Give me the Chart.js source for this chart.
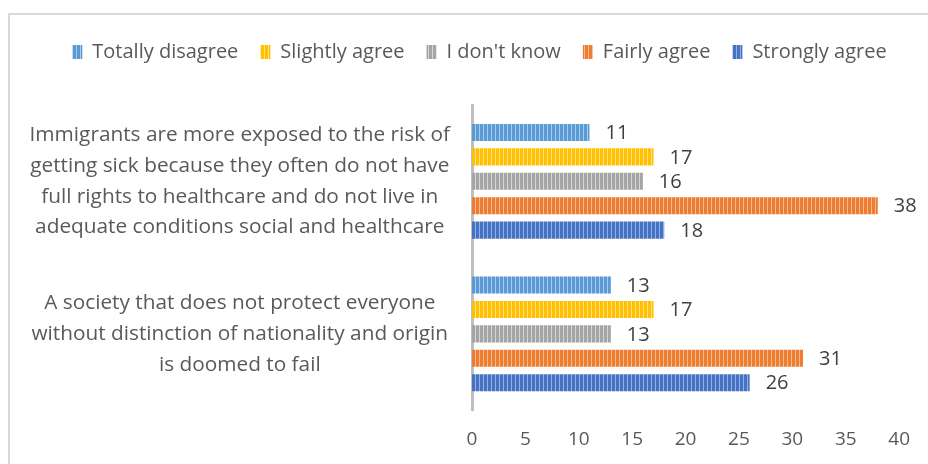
<!DOCTYPE html>
<html>
<head>
<meta charset="utf-8">
<script src="https://cdn.jsdelivr.net/npm/chart.js@4.4.0/dist/chart.umd.min.js"></script>
<style>
  html, body { margin: 0; padding: 0; background: #fff; }
  #wrap { width: 928px; height: 464px; position: relative; }
</style>
</head>
<body>
<div id="wrap"><canvas id="grafico" width="928" height="464"></canvas></div>
<script>
// categorias (eixo y)
const categorias = [
    ['Immigrants are more exposed to the risk of', 'getting sick because they often do not have', 'full rights to healthcare and do not live in', 'adequate conditions social and healthcare'],
    ['A society that does not protect everyone', 'without distinction of nationality and origin', 'is doomed to fail']
];

// séries
const series = ['Totally disagree', 'Slightly agree', "I don't know", 'Fairly agree', 'Strongly agree'];
const totallyDisagree = [11, 13];
const slightlyAgree = [17, 17];
const naoSei = [16, 13];
const fairlyAgree = [38, 31];
const stronglyAgree = [18, 26];

// ticks do eixo x
const ticksX = [0, 5, 10, 15, 20, 25, 30, 35, 40];

const fonte = "'Open Sans', sans-serif";
const cores = ['#5B9BD5', '#FFC000', '#A5A5A5', '#ED7D31', '#4472C4'];
const coresClaras = ['#a9cbec', '#ffe08a', '#d6d6d6', '#f6b98f', '#97b0e0'];

// padrão listrado vertical (igual ao do Excel)
function criarPadrao(cor, clara) {
    const c = document.createElement('canvas');
    c.width = 4;
    c.height = 4;
    const ctx = c.getContext('2d');
    ctx.fillStyle = cor;
    ctx.fillRect(0, 0, 4, 4);
    ctx.fillStyle = clara;
    ctx.fillRect(3, 0, 1, 4);
    return ctx.createPattern(c, 'repeat');
}

const valores = [totallyDisagree, slightlyAgree, naoSei, fairlyAgree, stronglyAgree];

const datasets = series.map((nome, i) => ({
    label: nome,
    data: valores[i],
    backgroundColor: criarPadrao(cores[i], coresClaras[i]),
    borderWidth: 0,
    categoryPercentage: 0.8,
    barPercentage: 0.7
}));

// moldura cinza em volta
const moldura = {
    id: 'moldura',
    beforeDraw(chart) {
        const ctx = chart.ctx;
        ctx.save();
        ctx.strokeStyle = '#d9d9d9';
        ctx.lineWidth = 2;
        ctx.strokeRect(9, 14, 940, 480);
        ctx.restore();
    }
};

// espaço extra abaixo da legenda e deslocamento para a direita
const ajusteLegenda = {
    id: 'ajusteLegenda',
    beforeInit(chart) {
        const legenda = chart.legend;
        const fitOriginal = legenda.fit;
        legenda.fit = function () {
            fitOriginal.bind(legenda)();
            this.height += 33;
        };
        const drawOriginal = legenda.draw;
        legenda.draw = function () {
            chart.ctx.save();
            chart.ctx.translate(29, 0);
            drawOriginal.bind(legenda)();
            chart.ctx.restore();
        };
    }
};

// rótulos de valor no fim das barras
const rotulos = {
    id: 'rotulos',
    afterDatasetsDraw(chart) {
        const ctx = chart.ctx;
        ctx.save();
        ctx.font = '20px ' + fonte;
        ctx.fillStyle = '#404040';
        ctx.textAlign = 'left';
        ctx.textBaseline = 'middle';
        chart.data.datasets.forEach((ds, i) => {
            chart.getDatasetMeta(i).data.forEach((bar, j) => {
                ctx.fillText(ds.data[j], bar.x + 16, bar.y + 1);
            });
        });
        ctx.restore();
    }
};

new Chart(document.getElementById('grafico'), {
    type: 'bar',
    data: {
        labels: categorias,
        datasets: datasets
    },
    options: {
        indexAxis: 'y',
        responsive: false,
        animation: false,
        layout: {
            padding: { left: 0, right: 27, top: 20, bottom: -5 }
        },
        plugins: {
            legend: {
                position: 'top',
                labels: {
                    boxWidth: 10,
                    boxHeight: 14,
                    padding: 22,
                    color: '#595959',
                    font: { size: 20, family: fonte }
                }
            },
            tooltip: { enabled: false }
        },
        scales: {
            x: {
                min: 0,
                max: 40,
                afterBuildTicks(axis) {
                    axis.ticks = ticksX.map(v => ({ value: v }));
                },
                grid: { display: false, drawTicks: false },
                border: { display: false },
                ticks: {
                    color: '#595959',
                    padding: 18,
                    font: { size: 19, family: fonte }
                }
            },
            y: {
                afterFit(axis) {
                    axis.width = 472;
                    axis.paddingTop = 0;
                    axis.paddingBottom = 0;
                },
                grid: { display: false, drawTicks: false },
                border: { display: true, color: '#bfbfbf', width: 3 },
                ticks: {
                    color: '#595959',
                    crossAlign: 'center',
                    padding: 22,
                    font: { size: 20.8, family: fonte, lineHeight: 1.48 }
                }
            }
        }
    },
    plugins: [moldura, ajusteLegenda, rotulos]
});
</script>
</body>
</html>
